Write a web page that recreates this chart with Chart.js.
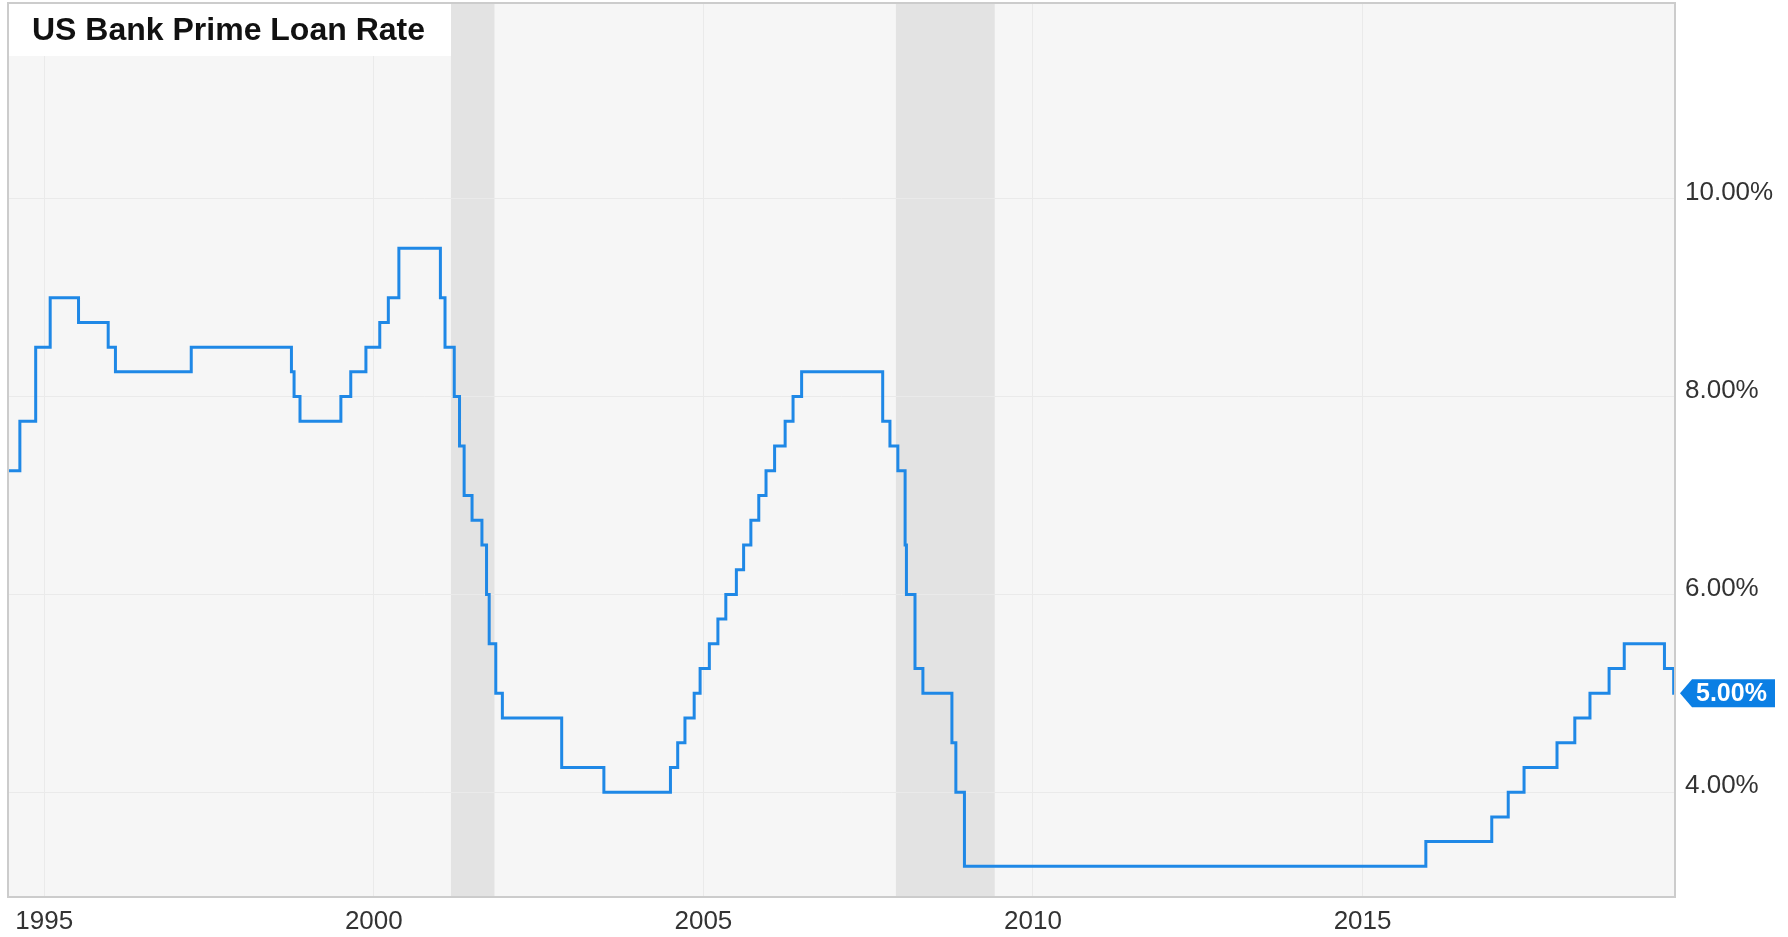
<!DOCTYPE html>
<html>
<head>
<meta charset="utf-8">
<script src="https://cdn.jsdelivr.net/npm/chart.js@4.4.0/dist/chart.umd.min.js"></script>
<style>
  body { margin: 0; background: #fff; }
  #wrap { width: 1788px; height: 937px; }
</style>
</head>
<body>
<div id="wrap"><canvas id="rate" width="1788" height="937"></canvas></div>
<script>
// Prime rate change dates (decimal years) and the new rate from that date
const changeDates = [1994.45, 1994.63, 1994.87, 1995.09, 1995.52, 1995.97, 1996.08, 1997.23,
  1998.75, 1998.79, 1998.88, 1999.50, 1999.65, 1999.88, 2000.09, 2000.22, 2000.38,
  2001.01, 2001.08, 2001.22, 2001.30, 2001.37, 2001.49, 2001.64, 2001.71, 2001.75, 2001.85, 2001.95,
  2002.85, 2003.49, 2004.50, 2004.61, 2004.72, 2004.86, 2004.95,
  2005.09, 2005.22, 2005.34, 2005.50, 2005.61, 2005.72, 2005.84, 2005.95,
  2006.08, 2006.24, 2006.36, 2006.49, 2007.72, 2007.83, 2007.95,
  2008.06, 2008.08, 2008.21, 2008.33, 2008.77, 2008.83, 2008.96,
  2015.96, 2016.96, 2017.21, 2017.45, 2017.95, 2018.22, 2018.45, 2018.74, 2018.97,
  2019.58, 2019.72, 2019.74];
const rates = [7.25, 7.75, 8.5, 9.0, 8.75, 8.5, 8.25, 8.5,
  8.25, 8.0, 7.75, 8.0, 8.25, 8.5, 8.75, 9.0, 9.5,
  9.0, 8.5, 8.0, 7.5, 7.0, 6.75, 6.5, 6.0, 5.5, 5.0, 4.75,
  4.25, 4.0, 4.25, 4.5, 4.75, 5.0, 5.25,
  5.5, 5.75, 6.0, 6.25, 6.5, 6.75, 7.0, 7.25,
  7.5, 7.75, 8.0, 8.25, 7.75, 7.5, 7.25,
  6.5, 6.0, 5.25, 5.0, 4.5, 4.0, 3.25,
  3.5, 3.75, 4.0, 4.25, 4.5, 4.75, 5.0, 5.25, 5.5,
  5.25, 5.0, 5.0];

// recessions (shaded)
const recessionStart = [2001.17, 2007.92];
const recessionEnd = [2001.83, 2009.42];

const xTicks = [1995, 2000, 2005, 2010, 2015];
const yTicks = [4, 6, 8, 10];

const FONT = "'Liberation Sans', Arial, sans-serif";

const decor = {
  id: 'decor',
  beforeDraw(chart) {
    const { ctx, chartArea: a, scales: { x } } = chart;
    ctx.save();
    ctx.fillStyle = '#f6f6f6';
    ctx.fillRect(a.left, a.top, a.right - a.left, a.bottom - a.top);
    ctx.fillStyle = '#e3e3e3';
    recessionStart.forEach((s, i) => {
      const x0 = x.getPixelForValue(s);
      const x1 = x.getPixelForValue(recessionEnd[i]);
      ctx.fillRect(x0, a.top, x1 - x0, a.bottom - a.top);
    });
    ctx.restore();
  },
  beforeDatasetsDraw(chart) {
    const { ctx, chartArea: a } = chart;
    ctx.save();
    ctx.fillStyle = '#ffffff';
    ctx.fillRect(a.left, a.top, 443, 53);
    ctx.fillStyle = '#111';
    ctx.font = 'bold 32px ' + FONT;
    ctx.textBaseline = 'alphabetic';
    ctx.fillText('US Bank Prime Loan Rate', 32, 40);
    ctx.restore();
  },
  afterDraw(chart) {
    const { ctx, chartArea: a, scales: { y } } = chart;
    ctx.save();
    ctx.strokeStyle = '#cccccc';
    ctx.lineWidth = 2;
    ctx.strokeRect(a.left, a.top, a.right - a.left, a.bottom - a.top);

    // last value tag
    const last = rates[rates.length - 1];
    const py = y.getPixelForValue(last);
    const tip = a.right + 5;
    ctx.fillStyle = '#0b7fe4';
    ctx.beginPath();
    ctx.moveTo(tip, py);
    ctx.lineTo(tip + 12, py - 14);
    ctx.lineTo(1775, py - 14);
    ctx.lineTo(1775, py + 14);
    ctx.lineTo(tip + 12, py + 14);
    ctx.closePath();
    ctx.fill();
    ctx.fillStyle = '#ffffff';
    ctx.font = 'bold 25px ' + FONT;
    ctx.textBaseline = 'middle';
    ctx.fillText(last.toFixed(2) + '%', 1696, py + 1);
    ctx.restore();
  }
};

new Chart(document.getElementById('rate'), {
  type: 'line',
  data: {
    datasets: [{
      label: 'US Bank Prime Loan Rate',
      data: changeDates.map((d, i) => ({ x: d, y: rates[i] })),
      borderColor: '#1f88e6',
      borderWidth: 3,
      stepped: true,
      pointRadius: 0,
      fill: false
    }]
  },
  options: {
    responsive: false,
    animation: false,
    layout: { padding: { left: 8, top: 3, right: 0, bottom: 0 } },
    plugins: { legend: { display: false }, tooltip: { enabled: false } },
    scales: {
      x: {
        type: 'linear',
        min: 1994.45,
        max: 2019.74,
        afterBuildTicks: s => { s.ticks = xTicks.map(v => ({ value: v })); },
        afterFit: s => { s.height = 40; s.paddingLeft = 0; s.paddingRight = 0; },
        grid: { color: '#eaeaea', drawTicks: false },
        border: { display: false },
        ticks: {
          callback: v => String(v),
          color: '#333',
          padding: 9,
          maxRotation: 0,
          font: { family: FONT, size: 26 }
        }
      },
      y: {
        position: 'right',
        min: 2.94,
        max: 11.98,
        afterBuildTicks: s => { s.ticks = yTicks.map(v => ({ value: v })); },
        afterFit: s => { s.width = 113; s.paddingTop = 0; s.paddingBottom = 0; },
        grid: { color: '#eaeaea', drawTicks: false },
        border: { display: false },
        ticks: {
          callback: v => v.toFixed(2) + '%',
          color: '#333',
          padding: 10,
          labelOffset: -6,
          font: { family: FONT, size: 26 }
        }
      }
    }
  },
  plugins: [decor]
});
</script>
</body>
</html>
